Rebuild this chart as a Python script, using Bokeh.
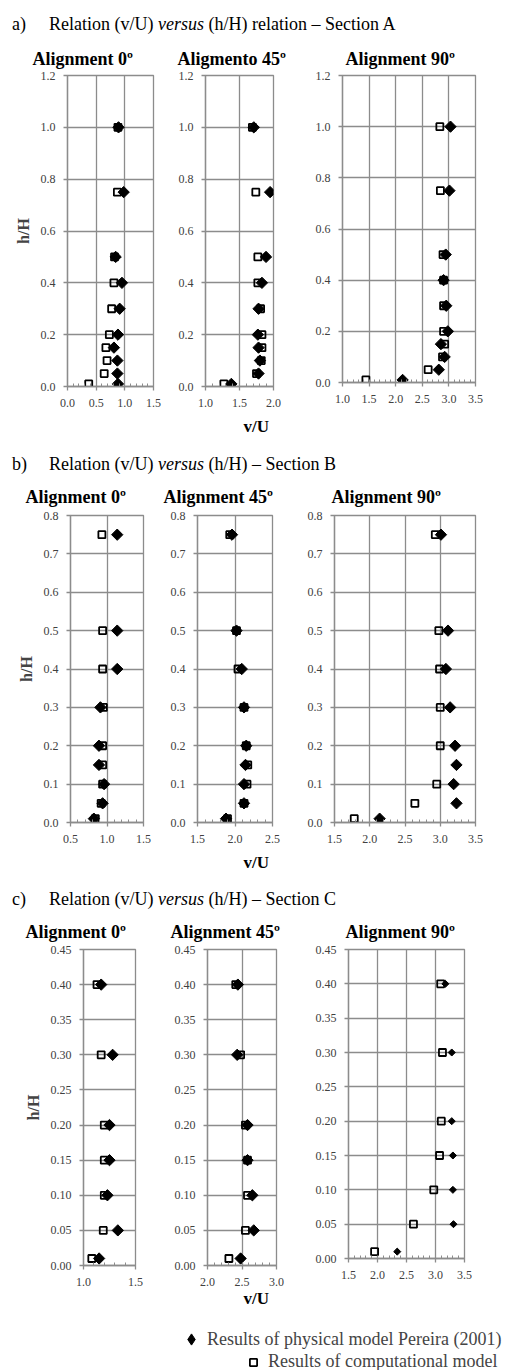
import math
from bokeh.plotting import figure
from bokeh.models import (FixedTicker, Legend, LegendItem, Div, Range1d, Title,
                          NumeralTickFormatter)
from bokeh.layouts import column, row
from bokeh.embed import file_html
from bokeh.resources import INLINE

NaN = float("nan")

# ---------------- data ----------------
h_A = [1.0, 0.75, 0.5, 0.4, 0.3, 0.2, 0.15, 0.1, 0.05, 0.01]
A0_phys = [0.89, 0.98, 0.84, 0.95, 0.91, 0.88, 0.81, 0.87, 0.87, 0.88]
A0_comp = [0.88, 0.87, 0.82, 0.81, 0.77, 0.73, 0.67, 0.69, 0.64, 0.37]
A45_phys = [1.71, 1.95, 1.89, 1.83, 1.78, 1.77, 1.78, 1.80, 1.78, 1.38]
A45_comp = [1.69, 1.74, 1.77, 1.77, 1.81, 1.83, 1.83, 1.82, 1.75, 1.27]
A90_phys = [3.03, 3.01, 2.94, 2.90, 2.95, 2.98, 2.85, 2.92, 2.81, 2.13]
A90_comp = [2.83, 2.84, 2.89, 2.90, 2.90, 2.90, 2.92, 2.88, 2.61, 1.44]

h_B = [0.75, 0.5, 0.4, 0.3, 0.2, 0.15, 0.1, 0.05, 0.01]
B0_phys = [1.14, 1.14, 1.14, 0.91, 0.89, 0.89, 0.96, 0.94, 0.82]
B0_comp = [0.93, 0.94, 0.94, 0.95, 0.94, 0.94, 0.94, 0.92, 0.84]
B45_phys = [1.96, 2.02, 2.09, 2.12, 2.15, 2.14, 2.12, 2.12, 1.88]
B45_comp = [1.93, 2.02, 2.04, 2.12, 2.15, 2.17, 2.16, 2.12, 1.90]
B90_phys = [3.01, 3.11, 3.08, 3.14, 3.21, 3.23, 3.19, 3.23, 2.14]
B90_comp = [2.93, 2.98, 2.99, 3.00, 3.00, NaN, 2.95, 2.64, 1.78]

h_C = [0.40, 0.30, 0.20, 0.15, 0.10, 0.05, 0.01]
C0_phys = [1.17, 1.28, 1.25, 1.25, 1.23, 1.33, 1.15]
C0_comp = [1.13, 1.17, 1.20, 1.20, 1.20, 1.19, 1.08]
C45_phys = [2.44, 2.43, 2.58, 2.58, 2.65, 2.67, 2.48]
C45_comp = [2.41, 2.48, 2.55, 2.58, 2.58, 2.55, 2.31]
C90_phys = [3.17, 3.28, 3.28, 3.30, 3.30, 3.31, 2.34]
C90_comp = [3.09, 3.12, 3.10, 3.07, 2.97, 2.62, 1.95]

yticks_A = [0.0, 0.2, 0.4, 0.6, 0.8, 1.0, 1.2]
yticks_B = [0.0, 0.1, 0.2, 0.3, 0.4, 0.5, 0.6, 0.7, 0.8]
yticks_C = [0.0, 0.05, 0.10, 0.15, 0.20, 0.25, 0.30, 0.35, 0.40, 0.45]

section_titles = ["a)", "b)", "c)"]
section_texts = [("Relation (v/U) ", "versus", " (h/H) relation – Section A"),
                 ("Relation (v/U) ", "versus", " (h/H) – Section B"),
                 ("Relation (v/U) ", "versus", " (h/H) – Section C")]
panel_titles_A = ["Alignment 0º", "Aligmento 45º", "Alignment 90º"]
panel_titles_B = ["Alignment 0º", "Alignment 45º", "Alignment 90º"]
panel_titles_C = ["Alignment 0º", "Alignment 45º", "Alignment 90º"]
x_label = "v/U"
y_label = "h/H"
legend_phys = "Results of physical model Pereira (2001)"
legend_comp = "Results of computational model"

SERIF = "Liberation Serif"
GRID = "#8c8c8c"
TICKC = "#404040"


def frange(a, b, step):
    n = int(round((b - a) / step))
    return [round(a + i * step, 4) for i in range(n + 1)]


def panel(title, toff, tstand, xr, yr, yticks, yfmt, h, phys, comp, fw, fh, bl, br, bt, bb,
          dsize=8, ylabel=None, vlab=None):
    p = figure(width=bl + fw + br, height=bt + fh + bb, frame_width=fw, frame_height=fh,
               min_border_left=bl, min_border_right=br, min_border_top=bt,
               min_border_bottom=bb, x_range=Range1d(*xr), y_range=Range1d(*yr),
               toolbar_location=None, output_backend="svg")
    p.title.text = title
    p.title.align = "left"
    p.title.offset = toff
    p.title.standoff = tstand
    p.title.text_font = SERIF
    p.title.text_font_size = "18px"
    p.title.text_font_style = "bold"
    p.title.text_color = "black"

    xmaj = frange(xr[0], xr[1], 0.5)
    xmin = frange(xr[0], xr[1], 0.1)
    p.xaxis.ticker = FixedTicker(ticks=xmaj, minor_ticks=xmin)
    p.yaxis.ticker = FixedTicker(ticks=yticks)
    p.xaxis.formatter = NumeralTickFormatter(format="0.0")
    p.yaxis.formatter = NumeralTickFormatter(format=yfmt)
    for ax in (p.xaxis[0], p.yaxis[0]):
        ax.axis_line_color = GRID
        ax.axis_line_width = 1.3
        ax.major_tick_line_color = GRID
        ax.major_tick_line_width = 1.3
        ax.major_tick_in = 0
        ax.major_tick_out = 4
        ax.major_label_text_font = SERIF
        ax.major_label_text_font_size = "12px"
        ax.major_label_text_color = TICKC
        ax.major_label_standoff = 8
    p.xaxis.minor_tick_line_color = GRID
    p.xaxis.minor_tick_in = 3
    p.xaxis.minor_tick_out = 0
    p.yaxis.minor_tick_line_color = None
    if ylabel:
        p.yaxis.axis_label = ylabel
        p.yaxis.axis_label_text_font = SERIF
        p.yaxis.axis_label_text_font_size = "16px"
        p.yaxis.axis_label_text_font_style = "bold"
        p.yaxis.axis_label_standoff = 6
    p.xgrid.grid_line_color = GRID
    p.ygrid.grid_line_color = GRID
    p.xgrid.grid_line_width = 1.3
    p.ygrid.grid_line_width = 1.3
    p.outline_line_color = GRID
    p.outline_line_width = 1.3
    p.background_fill_color = "white"
    p.border_fill_color = "white"

    p.scatter(x=phys, y=h, marker="square", angle=math.pi / 4, size=dsize,
              fill_color="black", line_color="black")
    p.scatter(x=comp, y=h, marker="square", size=7, line_width=1.8,
              fill_alpha=0, line_color="black")
    if vlab:
        p.add_layout(Title(text=x_label, align="left", offset=vlab[0], standoff=vlab[1],
                           vertical_align="top", text_font=SERIF, text_font_size="17px",
                           text_font_style="bold", text_color="black"), "below")
    return p


def header(i, height, pad):
    a, b, c = section_texts[i]
    html = ('<div style="font-family:\'Liberation Serif\';font-size:18px;'
            'padding-top:%dpx;padding-left:12px;white-space:nowrap;color:#000">'
            '<span style="display:inline-block;width:37px">%s</span>%s<i>%s</i>%s</div>'
            % (pad, section_titles[i], a, b, c))
    return Div(text=html, width=505, height=height, margin=0)


# Section A
a1 = panel(panel_titles_A[0], -35, 14, (0.0, 1.5), (0, 1.2), yticks_A, "0.0", h_A, A0_phys, A0_comp,
           86, 311, 67, 12, 40, 60, ylabel=y_label)
a2 = panel(panel_titles_A[1], -28, 14, (1.0, 2.0), (0, 1.2), yticks_A, "0.0", h_A, A45_phys, A45_comp,
           68, 311, 40, 27, 40, 60, vlab=(38, 15))
a3 = panel(panel_titles_A[2], 3, 14, (1.0, 3.5), (0, 1.2), yticks_A, "0.0", h_A, A90_phys, A90_comp,
           133, 307, 42, 25, 40, 64)

# Section B
b1 = panel(panel_titles_B[0], -45, 18, (0.5, 1.5), (0, 0.8), yticks_B, "0.0", h_B, B0_phys, B0_comp,
           73, 307, 70, 12, 40, 59, ylabel=y_label)
b2 = panel(panel_titles_B[1], -34, 18, (1.5, 2.5), (0, 0.8), yticks_B, "0.0", h_B, B45_phys, B45_comp,
           75, 307, 42, 27, 40, 59, vlab=(46, 14))
b3 = panel(panel_titles_B[2], -3, 18, (1.5, 3.5), (0, 0.8), yticks_B, "0.0", h_B, B90_phys, B90_comp,
           141, 307, 35, 25, 40, 59)

# Section C
c1 = panel(panel_titles_C[0], -58, 16, (1.0, 1.5), (0, 0.45), yticks_C, "0.00", h_C, C0_phys, C0_comp,
           52, 316, 83, 20, 40, 49, ylabel=y_label)
c2 = panel(panel_titles_C[1], -37, 16, (2.0, 3.0), (0, 0.45), yticks_C, "0.00", h_C, C45_phys, C45_comp,
           69, 316, 52, 30, 40, 49, vlab=(36, 0))
c3 = panel(panel_titles_C[2], -3, 16, (1.5, 3.5), (0, 0.45), yticks_C, "0.00", h_C, C90_phys, C90_comp,
           116, 309, 42, 30, 39, 57, dsize=5)

# Legend (proxy renderers: first data point of each series, outside the visible range)
lg = figure(width=505, height=56, frame_width=505, frame_height=56, min_border=0,
            x_range=Range1d(0, 1), y_range=Range1d(0, 1),
            toolbar_location=None, output_backend="svg")
lg.axis.visible = False
lg.grid.visible = False
lg.outline_line_color = None
r1 = lg.scatter(x=C90_phys[:1], y=h_C[:1], marker="diamond", size=10,
                fill_color="black", line_color="black")
r2 = lg.scatter(x=C90_comp[:1], y=h_C[:1], marker="square", size=7, line_width=1.8,
                fill_alpha=0, line_color="black")
common = dict(padding=0, margin=0, border_line_color=None, background_fill_alpha=0,
              label_text_font=SERIF, label_text_font_size="18px", spacing=0)
leg1 = Legend(items=[LegendItem(label=legend_phys, renderers=[r1])], location=(177, 17),
              glyph_width=28, glyph_height=28, label_standoff=2, **common)
leg2 = Legend(items=[LegendItem(label=legend_comp, renderers=[r2])], location=(244, -2),
              glyph_width=18, glyph_height=18, label_standoff=6, **common)
lg.add_layout(leg1)
lg.add_layout(leg2)

layout = column(header(0, 35, 12), row(a1, a2, a3), header(1, 29, 6), row(b1, b2, b3),
                header(2, 28, 6), row(c1, c2, c3), lg)

open("out.html", "w").write(file_html(layout, INLINE))
